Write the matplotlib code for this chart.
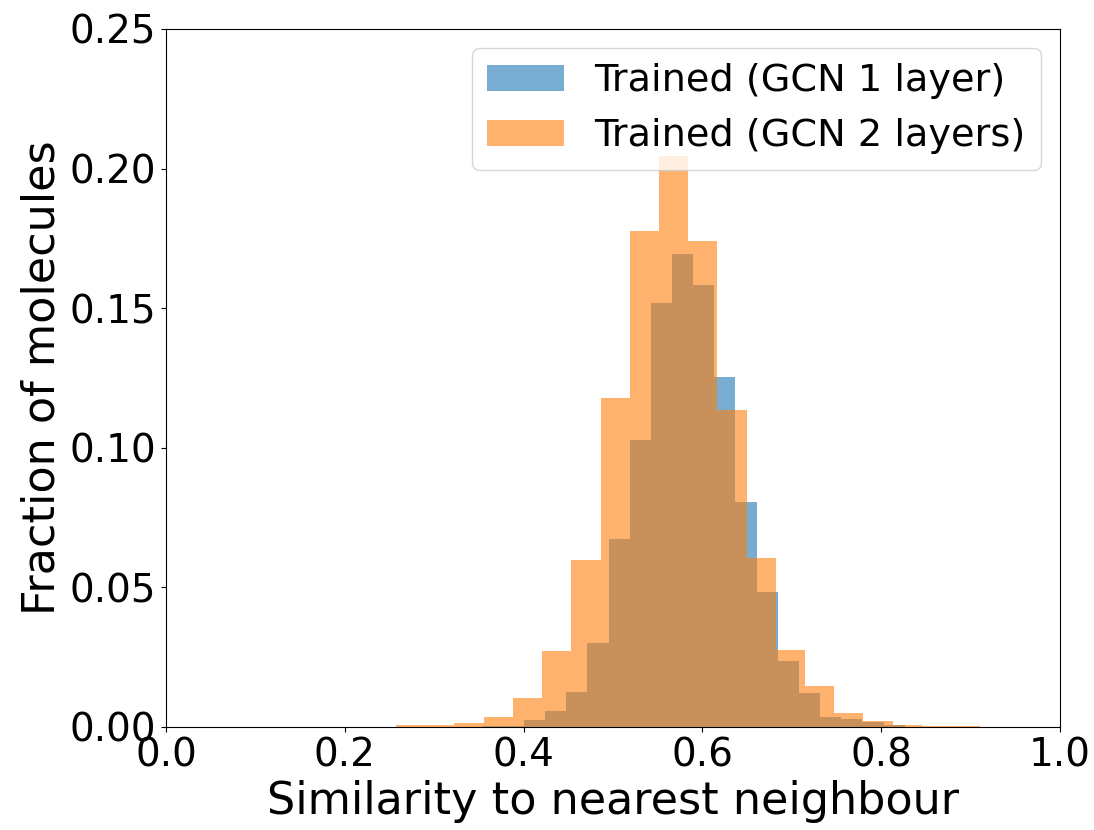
import numpy as np
import matplotlib
matplotlib.use("Agg")
import matplotlib.pyplot as plt

# Histogram heights (fraction of molecules per bin), 20 bins each
gcn1_range = (0.3531, 0.8263)
gcn1_frac = [0.0003, 0.0004, 0.0025, 0.0057, 0.0126, 0.0300, 0.0673, 0.1027,
             0.1520, 0.1693, 0.1584, 0.1252, 0.0805, 0.0482, 0.0236, 0.0120,
             0.0037, 0.0030, 0.0019, 0.0007]

gcn2_range = (0.2573, 0.9109)
gcn2_frac = [0.0007, 0.0007, 0.0013, 0.0035, 0.0103, 0.0272, 0.0598, 0.1180,
             0.1775, 0.2044, 0.1740, 0.1137, 0.0604, 0.0276, 0.0147, 0.0049,
             0.0023, 0.0006, 0.0004, 0.0004]

labels = ["Trained (GCN 1 layer)", "Trained (GCN 2 layers)"]

fig = plt.figure(figsize=(10.94, 8.30), dpi=100)
ax = fig.add_axes([0.1517, 0.1241, 0.8172, 0.8410])

for rng, frac, lab in [(gcn1_range, gcn1_frac, labels[0]),
                       (gcn2_range, gcn2_frac, labels[1])]:
    edges = np.linspace(rng[0], rng[1], len(frac) + 1)
    centers = (edges[:-1] + edges[1:]) / 2
    ax.hist(centers, bins=edges, weights=frac, alpha=0.6, label=lab)

ax.set_xlim(0, 1)
ax.set_ylim(0, 0.25)
ax.set_xticks([0.0, 0.2, 0.4, 0.6, 0.8, 1.0])
ax.set_yticks([0.0, 0.05, 0.10, 0.15, 0.20, 0.25])
ax.tick_params(labelsize=28)
ax.set_xlabel("Similarity to nearest neighbour", fontsize=32)
ax.set_ylabel("Fraction of molecules", fontsize=32)
ax.legend(loc="upper right", fontsize=27.5)

fig.savefig("out.png", dpi=100)
